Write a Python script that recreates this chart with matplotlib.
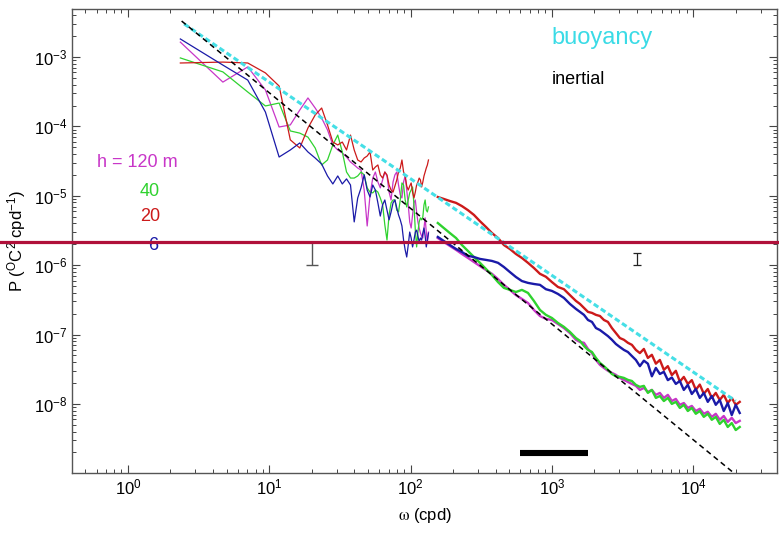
import numpy as np
import matplotlib
matplotlib.use("Agg")
import matplotlib.pyplot as plt
from matplotlib import rcParams

config = {
    "font.family": ["Liberation Sans", "DejaVu Sans"],
    "font.size": 12,
    "mathtext.fontset": "custom",
    "mathtext.rm": "Liberation Sans",
    "mathtext.it": "Liberation Sans:italic",
    "mathtext.bf": "Liberation Sans:bold",
    "axes.unicode_minus": False,
}
rcParams.update(config)

# frequency grids (cpd): coarse low-frequency record and the high-rate record
w_low = [2.35, 4.7, 7.05, 9.4, 11.75, 14.1, 16.45, 18.8, 21.15, 23.5,
         25.85, 28.2, 30.55, 32.9, 35.25, 37.6, 39.95, 42.3, 44.65, 47.0,
         49.35, 51.7, 54.05, 56.4, 58.75, 61.1, 63.45, 65.8, 68.15, 70.5,
         72.85, 75.2, 77.55, 79.9, 82.25, 84.6, 86.95, 89.3, 91.65, 94.0,
         96.35, 98.7, 101.05, 103.4, 105.75, 108.1, 110.45, 112.8, 115.15, 117.5,
         119.85, 122.2, 124.55, 126.9, 129.25, 131.6, 133.95]
w_high = [156, 172, 190, 210, 231, 255, 281, 310, 342, 377,
          416, 458, 505, 557, 614, 678, 747, 824, 908, 1002,
          1104, 1218, 1343, 1481, 1582, 1688, 1802, 1923, 2052, 2190,
          2337, 2494, 2662, 2841, 3032, 3236, 3454, 3686, 3934, 4199,
          4481, 4783, 5104, 5448, 5814, 6205, 6622, 7068, 7543, 8050,
          8592, 9170, 9786, 10444, 11146, 11896, 12696, 13549, 14460, 15433,
          16470, 17578, 18760, 20021, 21367]

# spectra, h = 120 m
p120_low = [1.64e-3, 4.35e-4, 7.2e-4, 3.35e-4, 9.8e-5, 1.05e-4, 1.72e-4, 2.57e-4, 1.84e-4, 1.32e-4,
            8.9e-5, 5.4e-5, 4.57e-5, 4.14e-5, 3.62e-5, 3.07e-5, 2.78e-5, 2.51e-5, 2.35e-5, 1.21e-5,
            3.67e-6, 1.03e-5, 1.8e-5, 2.2e-5, 1.58e-5, 1.3e-5, 1.69e-5, 2.2e-5, 1.93e-5, 1.13e-5,
            8.7e-6, 1.58e-5, 2.0e-5, 2.2e-5, 1.43e-5, 1.03e-5, 9.3e-6, 1.58e-5, 1.93e-5, 1.21e-5,
            7.4e-6, 4.2e-6, 3.43e-6, 5.3e-6, 7.9e-6, 8.7e-6, 5.85e-6, 4.2e-6, 3.43e-6, 2.9e-6,
            2.63e-6, 2.46e-6, 3.43e-6, 4.8e-6, 3.0e-6, 2.09e-6, 3.0e-6]
p120_high = [2.46e-6, 2.16e-6, 1.89e-6, 1.66e-6, 1.45e-6, 1.27e-6, 1.11e-6, 9.7e-7, 8.5e-7, 7.5e-7,
             6.3e-7, 5.2e-7, 4.4e-7, 3.7e-7, 3.26e-7, 2.85e-7, 2.26e-7, 1.85e-7, 1.68e-7, 1.62e-7,
             1.42e-7, 1.24e-7, 1.05e-7, 8.4e-8, 7.8e-8, 7.6e-8, 6.2e-8, 5.4e-8, 4.3e-8, 3.65e-8,
             3.3e-8, 3.0e-8, 2.8e-8, 2.62e-8, 2.37e-8, 2.22e-8, 2.07e-8, 1.94e-8, 1.82e-8, 1.59e-8,
             1.7e-8, 1.49e-8, 1.59e-8, 1.35e-8, 1.44e-8, 1.22e-8, 1.35e-8, 1.1e-8, 1.18e-8, 9.7e-9,
             1.03e-8, 8.75e-9, 9.35e-9, 7.9e-9, 8.5e-9, 7.2e-9, 7.7e-9, 6.5e-9, 7.2e-9, 5.9e-9,
             6.7e-9, 5.5e-9, 6.3e-9, 5.3e-9, 5.7e-9]

# h = 40 m
p40_low = [9.7e-4, 6.1e-4, 3.13e-4, 1.97e-4, 2.17e-4, 8.6e-5, 8.0e-5, 7.0e-5, 4.88e-5, 2.78e-5,
           3.28e-5, 5.4e-5, 7.5e-5, 4.28e-5, 2.2e-5, 1.8e-5, 1.8e-5, 1.93e-5, 2.2e-5, 2.0e-5,
           1.3e-5, 1.13e-5, 1.1e-5, 1.21e-5, 1.13e-5, 9.3e-6, 7.4e-6, 3.8e-6, 2.3e-6, 5.3e-6,
           7.9e-6, 8.7e-6, 8.7e-6, 6.2e-6, 5.85e-6, 8.7e-6, 1.53e-5, 1.43e-5, 8.7e-6, 6.9e-6,
           8.7e-6, 1.1e-5, 1.21e-5, 1.34e-5, 7.4e-6, 3.2e-6, 1.83e-6, 3.0e-6, 4.2e-6, 4.8e-6,
           4.5e-6, 4.95e-6, 7.4e-6, 8.7e-6, 6.2e-6, 5.85e-6, 6.9e-6]
p40_high = [4.05e-6, 3.43e-6, 2.9e-6, 2.46e-6, 1.95e-6, 1.6e-6, 1.31e-6, 1.08e-6, 8.8e-7, 7.2e-7,
            5.7e-7, 4.7e-7, 4.4e-7, 4.1e-7, 4.4e-7, 3.98e-7, 3.05e-7, 2.26e-7, 1.92e-7, 1.73e-7,
            1.47e-7, 1.29e-7, 1.09e-7, 8.9e-8, 8.1e-8, 6.85e-8, 6.0e-8, 5.6e-8, 4.6e-8, 3.9e-8,
            3.5e-8, 3.1e-8, 2.7e-8, 2.5e-8, 2.45e-8, 2.37e-8, 2.22e-8, 2.14e-8, 1.88e-8, 1.76e-8,
            1.82e-8, 1.44e-8, 1.59e-8, 1.22e-8, 1.3e-8, 1.1e-8, 1.22e-8, 1.0e-8, 1.07e-8, 8.75e-9,
            9.7e-9, 7.9e-9, 8.75e-9, 7.2e-9, 7.9e-9, 6.5e-9, 7.2e-9, 5.9e-9, 6.5e-9, 5.15e-9,
            5.9e-9, 4.65e-9, 5.3e-9, 4.2e-9, 4.65e-9]

# h = 20 m
p20_low = [8.2e-4, 8.45e-4, 8.2e-4, 5.9e-4, 3.82e-4, 6.4e-5, 4.88e-5, 9.5e-5, 1.46e-4, 1.84e-4,
           1.05e-4, 5.95e-5, 5.4e-5, 5.95e-5, 4.57e-5, 7.5e-5, 4.57e-5, 3.28e-5, 3.07e-5, 3.5e-5,
           3.74e-5, 4.28e-5, 2.35e-5, 2.6e-5, 2.78e-5, 2.0e-5, 1.8e-5, 2.2e-5, 2.0e-5, 1.43e-5,
           1.21e-5, 1.13e-5, 1.38e-5, 1.69e-5, 2.2e-5, 2.51e-5, 3.28e-5, 2.2e-5, 1.93e-5, 1.38e-5,
           1.21e-5, 1.38e-5, 1.53e-5, 1.13e-5, 9.3e-6, 1.13e-5, 1.43e-5, 1.58e-5, 1.8e-5, 1.69e-5,
           1.34e-5, 1.58e-5, 1.93e-5, 2.2e-5, 2.51e-5, 2.78e-5, 3.28e-5]
p20_high = [9.6e-6, 9.0e-6, 8.4e-6, 7.9e-6, 7.1e-6, 6.2e-6, 5.3e-6, 4.3e-6, 3.55e-6, 2.9e-6,
            2.46e-6, 1.95e-6, 1.71e-6, 1.45e-6, 1.27e-6, 1.08e-6, 9.1e-7, 7.5e-7, 6.8e-7, 5.7e-7,
            4.85e-7, 4.5e-7, 3.7e-7, 3.05e-7, 2.76e-7, 2.42e-7, 2.12e-7, 2.05e-7, 1.92e-7, 1.85e-7,
            1.62e-7, 1.52e-7, 1.24e-7, 1.05e-7, 8.9e-8, 8.4e-8, 7.6e-8, 7.1e-8, 6.0e-8, 5.4e-8,
            6.2e-8, 4.6e-8, 5.1e-8, 3.8e-8, 4.3e-8, 3.1e-8, 3.5e-8, 2.6e-8, 3.0e-8, 2.1e-8,
            2.45e-8, 1.94e-8, 2.2e-8, 1.6e-8, 1.9e-8, 1.4e-8, 1.64e-8, 1.22e-8, 1.44e-8, 1.14e-8,
            1.35e-8, 1.03e-8, 1.22e-8, 9.7e-9, 1.07e-8]

# h = 6 m
p6_low = [1.82e-3, 7.65e-4, 4.65e-4, 1.61e-4, 3.62e-5, 4.57e-5, 5.77e-5, 4.28e-5, 3.5e-5, 2.87e-5,
          1.93e-5, 1.48e-5, 1.93e-5, 1.48e-5, 1.75e-5, 1.43e-5, 4.2e-6, 9.3e-6, 1.3e-5, 2.0e-5,
          1.21e-5, 9.6e-6, 1.43e-5, 1.21e-5, 7.9e-6, 5.1e-6, 7.4e-6, 8.7e-6, 6.2e-6, 4.5e-6,
          5.85e-6, 7.9e-6, 8.7e-6, 6.7e-6, 5.3e-6, 4.5e-6, 3.67e-6, 2.3e-6, 1.66e-6, 1.31e-6,
          1.95e-6, 3.0e-6, 2.46e-6, 1.83e-6, 2.3e-6, 3.0e-6, 3.2e-6, 2.63e-6, 2.16e-6, 2.46e-6,
          2.3e-6, 2.9e-6, 3.43e-6, 2.63e-6, 1.83e-6, 2.3e-6, 2.9e-6]
p6_high = [2.55e-6, 2.23e-6, 1.95e-6, 1.71e-6, 1.55e-6, 1.36e-6, 1.31e-6, 1.23e-6, 1.19e-6, 1.15e-6,
           1.08e-6, 9.4e-7, 7.95e-7, 6.75e-7, 5.9e-7, 5.55e-7, 5.35e-7, 5.2e-7, 4.5e-7, 4.25e-7,
           3.85e-7, 3.37e-7, 2.76e-7, 2.34e-7, 2.12e-7, 1.92e-7, 1.62e-7, 1.52e-7, 1.24e-7, 1.16e-7,
           1.05e-7, 9.5e-8, 8.4e-8, 7.3e-8, 6.6e-8, 6.0e-8, 5.6e-8, 4.9e-8, 4.3e-8, 3.5e-8,
           4.2e-8, 3.8e-8, 2.5e-8, 3.3e-8, 2.7e-8, 2.9e-8, 2.2e-8, 2.4e-8, 1.94e-8, 2.14e-8,
           1.59e-8, 1.88e-8, 1.39e-8, 1.64e-8, 1.22e-8, 1.44e-8, 1.07e-8, 1.3e-8, 9.7e-9, 1.14e-8,
           7.9e-9, 1.03e-8, 6.9e-9, 9.7e-9, 7.4e-9]

# reference slopes (buoyancy ~ -1.4, inertial -5/3)
buoy_w = [2.5, 2.0e4]
buoy_p = [3.0e-3, 1.1e-8]
inert_w = [2.4, 2.2e4]
inert_p = [3.3e-3, 8.2e-10]

# frequency band bar and error bars
band_w = [600, 1800]
band_p = [1.97e-9, 1.97e-9]
err_w = [20, 4000]
err_lo = [1.0e-6, 1.0e-6]
err_hi = [2.15e-6, 1.48e-6]
level_p = 2.15e-6

labels = ["h = 120 m", "40", "20", "6"]
label_w = [0.60, 1.22, 1.22, 1.39]
label_p = [2.97e-5, 1.17e-5, 4.95e-6, 1.89e-6]
colors = ["#c836c8", "#2fd22f", "#cc1a1a", "#1a1aa8"]


def plot_spectra():
    fig = plt.figure(figsize=(7.79, 5.33), dpi=100)
    ax = fig.add_axes([0.0924, 0.1126, 0.905, 0.8705])

    lows = [p120_low, p40_low, p20_low, p6_low]
    highs = [p120_high, p40_high, p20_high, p6_high]
    for p_lo, color in zip(lows, colors):
        ax.plot(w_low, p_lo, color=color, lw=0.9, zorder=2)
    for p_hi, color in zip(highs, colors):
        ax.plot(w_high, p_hi, color=color, lw=1.7, zorder=3)

    ax.plot(buoy_w, buoy_p, color="#45dfe6", lw=2.2, dashes=(1.8, 1.0), zorder=4)
    ax.plot(inert_w, inert_p, color="black", lw=1.1, dashes=(3.5, 2.5), zorder=5)

    ax.plot(band_w, band_p, color="black", lw=4.4, solid_capstyle="butt")
    mid = [np.sqrt(lo * hi) for lo, hi in zip(err_lo, err_hi)]
    ax.errorbar(err_w[:1], mid[:1],
                yerr=[[mid[0] - err_lo[0]], [err_hi[0] - mid[0]]],
                fmt="none", ecolor="#555555", elinewidth=1.0, capsize=4, capthick=1.0)
    ax.errorbar(err_w[1:], mid[1:],
                yerr=[[mid[1] - err_lo[1]], [err_hi[1] - mid[1]]],
                fmt="none", ecolor="#222222", elinewidth=0.9, capsize=3, capthick=0.9)

    ax.axhline(level_p, xmin=-0.11, xmax=1.01, color="#b0103a", lw=2.3,
               clip_on=False, zorder=10)

    ax.text(1000, 1.9e-3, "buoyancy", color="#3adbe6", fontsize=17, va="center")
    ax.text(1000, 4.8e-4, "inertial", color="black", fontsize=13, va="center")
    for text, w, p, color in zip(labels, label_w, label_p, colors):
        ax.text(w, p, text, color=color, fontsize=13, va="center")

    ax.set_xscale("log")
    ax.set_yscale("log")
    ax.set_xlim(0.402, 3.92e4)
    ax.set_ylim(1.01e-9, 4.92e-3)
    ax.set_xticks([1, 10, 100, 1000, 10000])
    ax.set_yticks([1e-8, 1e-7, 1e-6, 1e-5, 1e-4, 1e-3])
    ax.tick_params(which="both", direction="in", top=True, right=True,
                   colors="#444444", labelcolor="black", labelsize=12)
    ax.tick_params(which="major", length=6, width=0.8)
    ax.tick_params(which="minor", length=3, width=0.7)
    for spine in ax.spines.values():
        spine.set_color("#555555")
        spine.set_linewidth(1.0)

    ax.set_xlabel(r"$\mathrm{\omega}$ (cpd)", fontsize=12, math_fontfamily="stix", labelpad=6)
    ax.set_ylabel(r"P ($^{\rm O}$C$^2$ cpd$^{-1}$)", fontsize=12, labelpad=4)
    return fig


if __name__ == "__main__":
    fig = plot_spectra()
    fig.savefig("out.png", dpi=100)
